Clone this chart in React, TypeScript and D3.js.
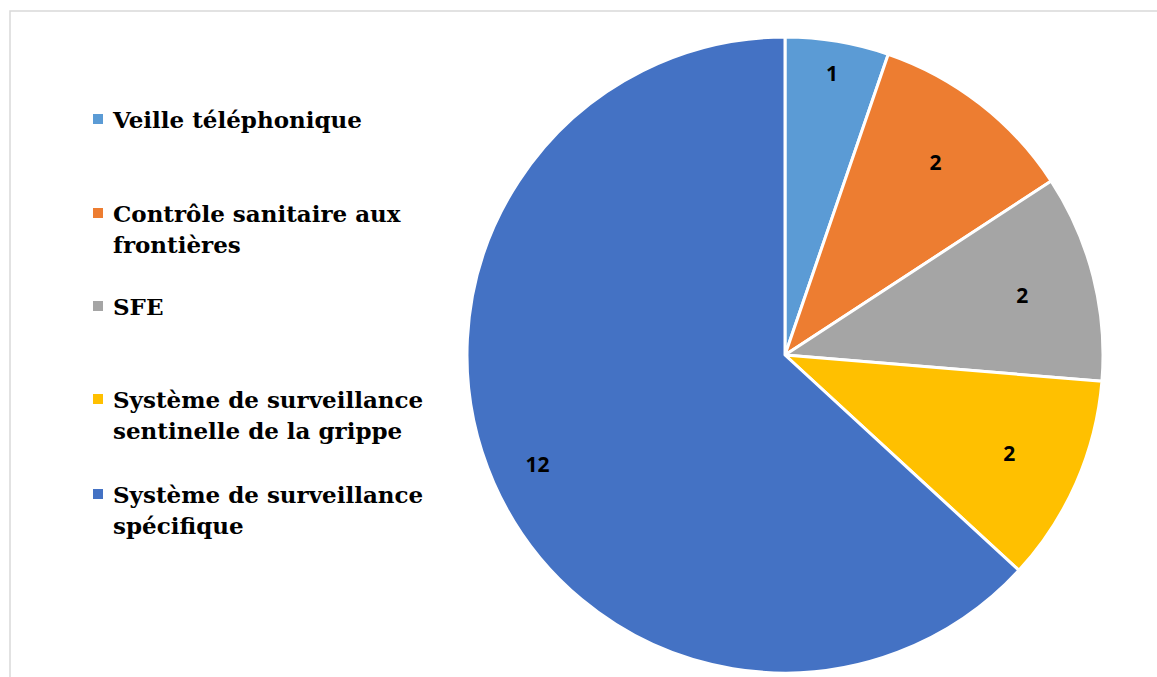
import React, { useEffect, useRef } from 'react';
import * as d3 from 'd3';

const categories = [
  ['Veille téléphonique'],
  ['Contrôle sanitaire aux', 'frontières'],
  ['SFE'],
  ['Système de surveillance', 'sentinelle de la grippe'],
  ['Système de surveillance', 'spécifique'],
];
const values = [1, 2, 2, 2, 12];
const colors = ['#5B9BD5', '#ED7D31', '#A5A5A5', '#FFC000', '#4472C4'];

const W = 1157;
const H = 677;

const App: React.FC = () => {
  const svgRef = useRef<SVGSVGElement>(null);

  useEffect(() => {
    if (!svgRef.current) return;
    const svg = d3.select(svgRef.current);
    svg.selectAll('*').remove();

    svg.append('rect')
      .attr('x', 0).attr('y', 0)
      .attr('width', W).attr('height', H)
      .attr('fill', '#fff');

    // chart frame
    svg.append('rect')
      .attr('x', 10).attr('y', 11)
      .attr('width', W + 20).attr('height', H + 20)
      .attr('fill', 'none')
      .attr('stroke', '#d9d9d9')
      .attr('stroke-width', 1.5);

    const cx = 785;
    const cy = 355;
    const r = 318;

    const pie = d3.pie<number>().sort(null).value(d => d);
    const arcs = pie(values);
    const arc = d3.arc<d3.PieArcDatum<number>>().innerRadius(0).outerRadius(r);

    const g = svg.append('g').attr('transform', `translate(${cx},${cy})`);

    g.selectAll('path')
      .data(arcs)
      .enter()
      .append('path')
      .attr('d', arc)
      .attr('fill', (_, i) => colors[i])
      .attr('stroke', '#fff')
      .attr('stroke-width', 3)
      .attr('stroke-linejoin', 'round');

    // data labels, narrow slices pushed outward like Excel's best fit
    g.selectAll('text.lbl')
      .data(arcs)
      .enter()
      .append('text')
      .attr('class', 'lbl')
      .attr('transform', d => {
        const span = d.endAngle - d.startAngle;
        const k = span < 0.4 ? 0.9 : span > 3 ? 0.85 : 0.77;
        const a = (d.startAngle + d.endAngle) / 2;
        return `translate(${Math.sin(a) * r * k},${-Math.cos(a) * r * k})`;
      })
      .attr('text-anchor', 'middle')
      .attr('dominant-baseline', 'central')
      .attr('font-family', '"Open Sans", "DejaVu Sans", sans-serif')
      .attr('font-weight', 'bold')
      .attr('font-size', 21)
      .attr('fill', '#000')
      .text(d => String(d.data));

    // legend
    const baselines = [128, 222, 315, 408, 503];
    const lineH = 31;
    const leg = svg.append('g');
    categories.forEach((lines, i) => {
      const y0 = baselines[i];
      leg.append('rect')
        .attr('x', 93).attr('y', y0 - 14)
        .attr('width', 10).attr('height', 10)
        .attr('fill', colors[i]);
      const t = leg.append('text')
        .attr('x', 113).attr('y', y0)
        .attr('font-family', '"DejaVu Serif", "Liberation Serif", serif')
        .attr('font-weight', 'bold')
        .attr('font-size', 23)
        .attr('fill', '#000');
      lines.forEach((line, j) => {
        t.append('tspan')
          .attr('x', 113)
          .attr('y', y0 + j * lineH)
          .text(line);
      });
    });
  }, []);

  return (
    <svg
      ref={svgRef}
      width={W}
      height={H}
      viewBox={`0 0 ${W} ${H}`}
      style={{ position: 'absolute', left: 0, top: 0 }}
    />
  );
};

export default App;
